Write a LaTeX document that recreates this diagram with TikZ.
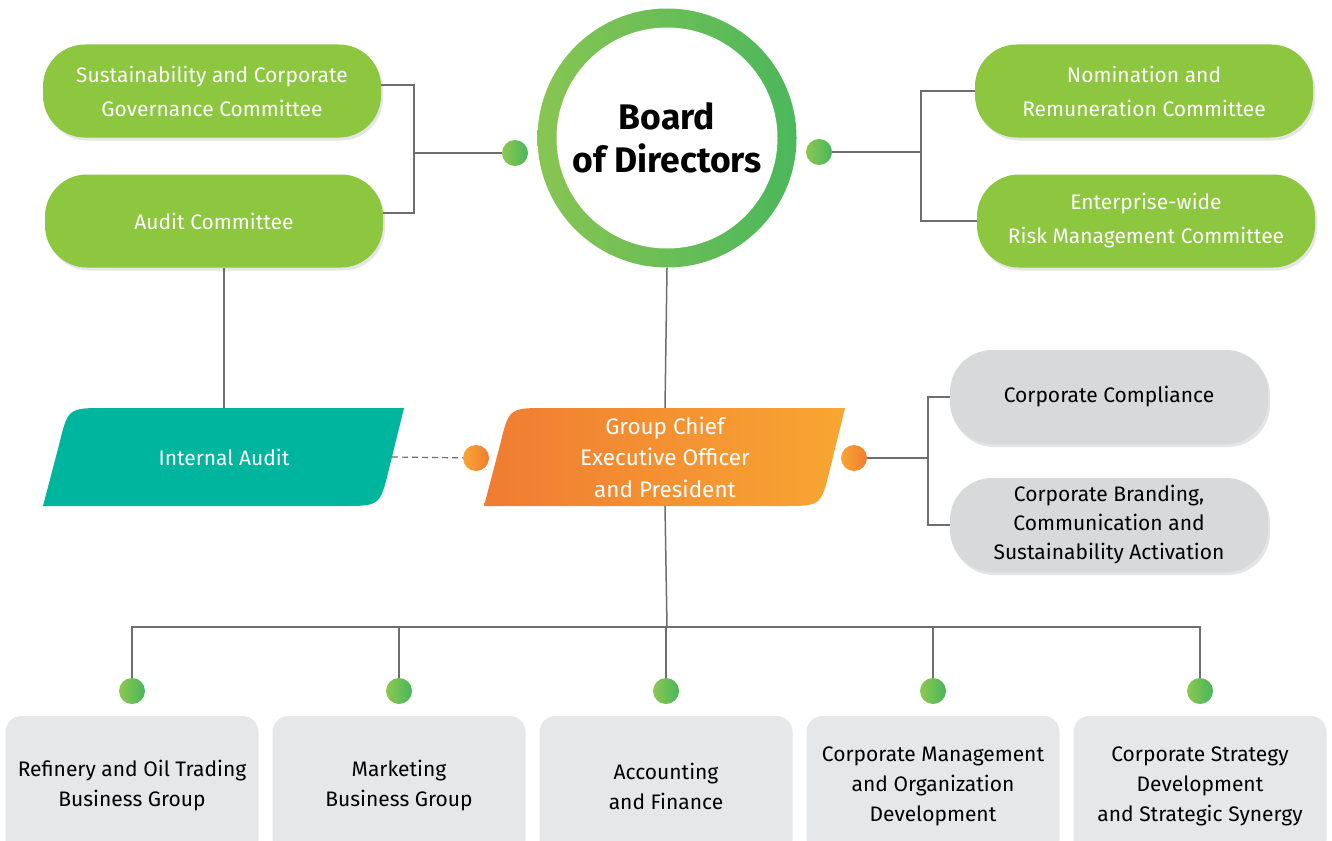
\documentclass[tikz,border=0pt]{standalone}
\usepackage{fontspec}
\setmainfont{Fira Sans}
\usetikzlibrary{calc,shadows,backgrounds}

\definecolor{lime}{HTML}{8DC63F}
\definecolor{ringL}{HTML}{88C552}
\definecolor{ringR}{HTML}{4BB75B}
\definecolor{dotL}{HTML}{8DC851}
\definecolor{dotR}{HTML}{48B65A}
\definecolor{tealfill}{HTML}{00B59E}
\definecolor{orL}{HTML}{F07C32}
\definecolor{orR}{HTML}{F8A632}
\definecolor{pillgray}{HTML}{D8D9DB}
\definecolor{unitgray}{HTML}{E6E7E8}
\definecolor{linegray}{HTML}{6D6E71}

\begin{document}
\begin{tikzpicture}[x=1pt,y=-1pt,
    conn/.style={draw=linegray, line width=1.5pt},
    pill/.style={rectangle, rounded corners=42pt, fill=lime, text=white,
      minimum width=338pt, minimum height=93pt, align=center,
      font=\fontsize{21}{34}\selectfont,
      drop shadow={shadow xshift=2pt, shadow yshift=-3pt, opacity=.2}},
    graypill/.style={pill, fill=pillgray, text=black, minimum width=318pt,
      minimum height=94pt, font=\fontsize{21}{29}\selectfont},
    unit/.style={rectangle, rounded corners=16pt, fill=unitgray,
      minimum width=253pt, minimum height=140pt, align=center,
      font=\fontsize{21}{30}\selectfont},
    slant/.style={rectangle, minimum height=98pt, text=white, align=center,
      font=\fontsize{21}{31.5}\selectfont},
    iashape/.style={fill=tealfill},
    ceoshape/.style={left color=orL, right color=orR},
    gdot/.style={circle, inner sep=0pt, minimum size=26pt, left color=dotL, right color=dotR},
    odot/.style={circle, inner sep=0pt, minimum size=26pt, left color=orR, right color=orL}
  ]
  \path[use as bounding box, clip] (0,0) rectangle (1332,840);

  % board of directors
  \node[circle, inner sep=0pt, minimum size=259pt, left color=ringL, right color=ringR] (bodring) at (667,138) {};
  \node[circle, fill=white, minimum size=221pt, align=center,
        font=\fontsize{35.5}{43}\selectfont\bfseries] (bod) at (bodring) {Board\\of Directors};
  \node[gdot] (ldot) at (515,153) {};
  \node[gdot] (rdot) at (819,152) {};

  % committees
  \node[pill] (scg) at (212,91) {Sustainability and Corporate\\Governance Committee};
  \node[pill] (audc) at (214,221) {Audit Committee};
  \node[pill] (nom) at (1144,91) {Nomination and\\Remuneration Committee};
  \node[pill] (erm) at (1146,221) {Enterprise-wide\\Risk Management Committee};

  \coordinate (lj) at (414,153);
  \coordinate (rj) at (921,152);
  \draw[conn] ($(scg.east)+(0,-6)$) -| (lj) |- ($(audc.east)+(0,-8)$);
  \draw[conn] (lj) -- (ldot);
  \draw[conn] (nom.west) -| (rj) |- (erm.west);
  \draw[conn] (rdot) -- (rj);

  % internal audit and ceo
  \node[slant, minimum width=336pt] (ia) at (224,457) {Internal Audit};
  \node[slant, minimum width=338pt, font=\fontsize{22.5}{31.5}\selectfont] (ceo) at (665,457) {Group Chief\\Executive Officer\\and President};
  \begin{pgfonlayer}{background}
    \fill[white] (0,0) rectangle (1332,840);
    \foreach \n in {ia, ceo} {
      \path[\n shape, shift={(\n.center)}] (-181,49) -- (-165,-12) .. controls (-156,-49) .. (-118,-49)
        -- (180,-49) -- (165,12) .. controls (156,49) .. (118,49) -- cycle;
    };
  \end{pgfonlayer}
  \node[odot] (odl) at (476,458) {};
  \node[odot] (odr) at (854,458) {};

  \draw[conn] (bodring.south) -- (ceo.north);
  \draw[conn] (ia.north |- audc.south) -- (ia.north);
  \draw[conn, line width=1.2pt, dash pattern=on 6pt off 4pt] (ia.east) -- (odl);

  % corporate offices
  \node[graypill] (cc) at (1109,397) {Corporate Compliance};
  \node[graypill] (cb) at (1109,525) {Corporate Branding,\\Communication and\\Sustainability Activation};
  \coordinate (cj) at (928,458);
  \draw[conn] (cc.west) -| (cj) |- (cb.west);
  \draw[conn] (odr) -- (cj);

  % business units
  \coordinate (bj) at (667,627);
  \draw[conn] (ceo.south) -- (bj);
  \foreach \i/\x/\t in {1/132/{Refinery and Oil Trading\\Business Group},
                        2/399/{Marketing\\Business Group},
                        3/666/{Accounting\\and Finance},
                        4/933/{Corporate Management\\and Organization\\Development},
                        5/1200/{Corporate Strategy\\Development\\and Strategic Synergy}} {
    \node[unit] (b\i) at (\x,786) {\t};
    \node[gdot] (bd\i) at (\x,691) {};
    \draw[conn] (bj) -| (bd\i);
  };
\end{tikzpicture}
\end{document}
